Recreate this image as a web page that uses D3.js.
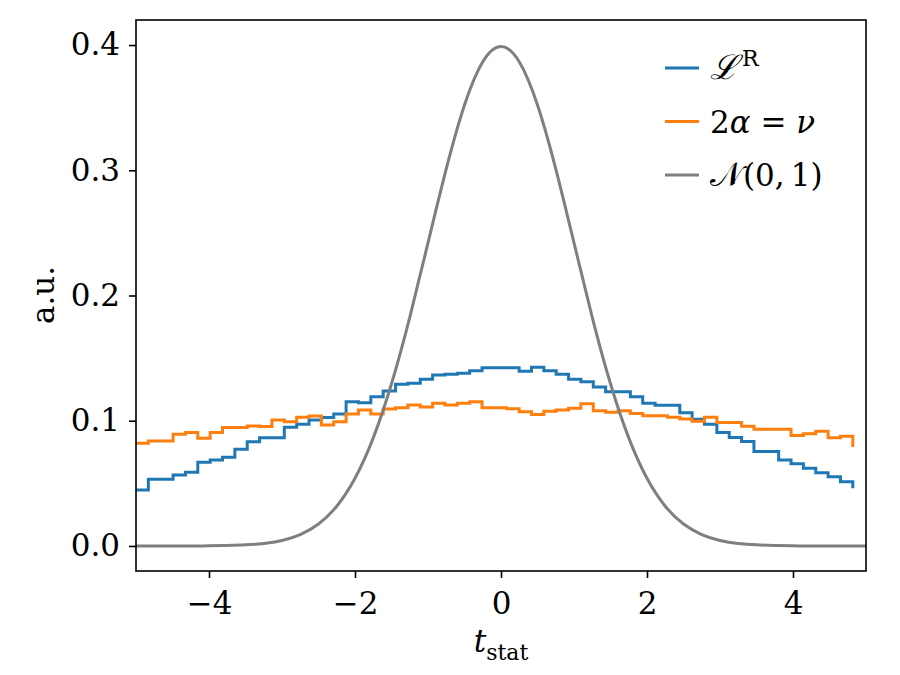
<!DOCTYPE html>
<html>
<head>
<meta charset="utf-8">
<script src="https://cdn.jsdelivr.net/npm/d3@7"></script>
<style>
  body { margin: 0; background: #fff; }
  svg text { font-family: "DejaVu Serif", serif; fill: #000; }
</style>
</head>
<body>
<div id="chart"></div>
<script>
// histogram heights, one per bin (58 bins from -5), last entry = closing drop
var blueVals = [0.0447, 0.0532, 0.0532, 0.0567, 0.0588, 0.0668, 0.0687, 0.0708, 0.0772, 0.0833,
  0.0865, 0.0865, 0.0948, 0.0972, 0.1006, 0.1025, 0.1054, 0.1152, 0.1144, 0.1192,
  0.1238, 0.1291, 0.1299, 0.1331, 0.1365, 0.1371, 0.1379, 0.1400, 0.1424, 0.1424,
  0.1424, 0.1395, 0.1428, 0.1400, 0.1371, 0.1332, 0.1312, 0.1270, 0.1232, 0.1232,
  0.1192, 0.1140, 0.1123, 0.1123, 0.1064, 0.1011, 0.0972, 0.0905, 0.0866, 0.0835,
  0.0755, 0.0755, 0.0687, 0.0657, 0.0620, 0.0585, 0.0553, 0.0513, 0.0460];

var orangeVals = [0.0820, 0.0838, 0.0838, 0.0892, 0.0905, 0.0860, 0.0905, 0.0945, 0.0945, 0.0958,
  0.0953, 0.1006, 0.0992, 0.1027, 0.1038, 0.0966, 0.0992, 0.1054, 0.1086, 0.1054,
  0.1094, 0.1104, 0.1126, 0.1110, 0.1139, 0.1126, 0.1139, 0.1152, 0.1104, 0.1104,
  0.1095, 0.1072, 0.1050, 0.1075, 0.1086, 0.1099, 0.1135, 0.1080, 0.1068, 0.1080,
  0.1057, 0.1040, 0.1040, 0.1027, 0.1014, 0.0995, 0.1027, 0.0986, 0.0986, 0.0955,
  0.0932, 0.0932, 0.0932, 0.0882, 0.0897, 0.0915, 0.0864, 0.0876, 0.0790];

// gray curve read at x = -5, -4.75, ..., 5
var gaussX = d3.range(-5, 5.001, 0.25);
var gaussY = [0.0000, 0.0000, 0.0000, 0.0000, 0.0001, 0.0004, 0.0009, 0.0020, 0.0044, 0.0091,
  0.0175, 0.0317, 0.0540, 0.0863, 0.1295, 0.1826, 0.2420, 0.3011, 0.3521, 0.3867,
  0.3989, 0.3867, 0.3521, 0.3011, 0.2420, 0.1826, 0.1295, 0.0863, 0.0540, 0.0317,
  0.0175, 0.0091, 0.0044, 0.0020, 0.0009, 0.0004, 0.0001, 0.0000, 0.0000, 0.0000, 0.0000];

var binStart = -5;
var binWidth = 0.1693;

var xTicks = [-4, -2, 0, 2, 4];
var yTicks = [0.0, 0.1, 0.2, 0.3, 0.4];

var legendItems = [
  { key: "blue", color: "#1f77b4" },
  { key: "orange", color: "#ff7f0e" },
  { key: "gray", color: "#7f7f7f" }
];

var svgWidth = 900;
var svgHeight = 675;
var margin = { top: 20, right: 34, bottom: 104, left: 136 };
var width = svgWidth - margin.left - margin.right;
var height = svgHeight - margin.top - margin.bottom;
var fs = 31;

var svg = d3.select("#chart")
  .append("svg")
  .attr("width", svgWidth)
  .attr("height", svgHeight);

var chartGroup = svg.append("g")
  .attr("transform", `translate(${margin.left}, ${margin.top})`);

var xScale = d3.scaleLinear().domain([-5, 5]).range([0, width]);
var yScale = d3.scaleLinear().domain([-0.02, 0.42]).range([height, 0]);

chartGroup.append("clipPath").attr("id", "clip")
  .append("rect").attr("width", width).attr("height", height);

// step lines
function stepPoints(vals) {
  return vals.map((v, i) => [binStart + i * binWidth, v]);
}
var stepLine = d3.line()
  .x(d => xScale(d[0]))
  .y(d => yScale(d[1]))
  .curve(d3.curveStepAfter);

chartGroup.append("path")
  .datum(stepPoints(blueVals))
  .attr("clip-path", "url(#clip)")
  .attr("fill", "none")
  .attr("stroke", "#1f77b4")
  .attr("stroke-width", 3)
  .attr("d", stepLine);

chartGroup.append("path")
  .datum(stepPoints(orangeVals))
  .attr("clip-path", "url(#clip)")
  .attr("fill", "none")
  .attr("stroke", "#ff7f0e")
  .attr("stroke-width", 3)
  .attr("d", stepLine);

var gaussLine = d3.line()
  .x((d, i) => xScale(gaussX[i]))
  .y(d => yScale(d))
  .curve(d3.curveNatural);

chartGroup.append("path")
  .datum(gaussY)
  .attr("clip-path", "url(#clip)")
  .attr("fill", "none")
  .attr("stroke", "#7f7f7f")
  .attr("stroke-width", 3)
  .attr("d", gaussLine);

// axes
var xAxis = d3.axisBottom(xScale).tickValues(xTicks).tickSize(7).tickPadding(8)
  .tickFormat(d3.format("d"));
var yAxis = d3.axisLeft(yScale).tickValues(yTicks).tickSize(7).tickPadding(9)
  .tickFormat(d3.format(".1f"));

var gx = chartGroup.append("g")
  .attr("transform", `translate(0, ${height})`)
  .call(xAxis);
var gy = chartGroup.append("g").call(yAxis);

[gx, gy].forEach(g => {
  g.select(".domain").remove();
  g.selectAll("line").attr("stroke", "#000").attr("stroke-width", 1.6);
  g.selectAll("text").attr("font-size", fs).attr("font-family", "DejaVu Serif");
});
gx.selectAll("text").attr("dy", "0.9em");

// frame
chartGroup.append("rect")
  .attr("width", width)
  .attr("height", height)
  .attr("fill", "none")
  .attr("stroke", "#000")
  .attr("stroke-width", 1.6);

// axis labels
svg.append("text")
  .attr("transform", "translate(54, 295) rotate(-90)")
  .attr("text-anchor", "middle")
  .attr("font-size", fs)
  .text("a.u.");

var xl = svg.append("text")
  .attr("x", 501)
  .attr("y", 652)
  .attr("text-anchor", "middle")
  .attr("font-size", fs);
xl.append("tspan").attr("font-style", "italic").text("t");
xl.append("tspan").attr("font-size", 22).attr("dy", 8).text("stat");

// legend
var legend = svg.append("g").attr("transform", "translate(665, 68)");
legendItems.forEach((item, i) => {
  var row = legend.append("g").attr("transform", `translate(0, ${i * 53.5})`);
  row.append("line")
    .attr("x1", 0).attr("x2", 34)
    .attr("stroke", item.color).attr("stroke-width", 3);
  var t = row.append("text")
    .attr("x", 45).attr("y", 11)
    .attr("font-size", fs);
  if (item.key === "blue") {
    t.append("tspan").attr("font-style", "italic").attr("font-size", 34).text("ℒ");
    t.append("tspan").attr("font-size", 22).attr("dx", 4).attr("dy", -13).text("R");
  } else if (item.key === "orange") {
    t.append("tspan").text("2");
    t.append("tspan").attr("font-style", "italic").text("α");
    t.append("tspan").text(" = ");
    t.append("tspan").attr("font-style", "italic").text("ν");
  } else {
    t.append("tspan").attr("font-size", 34).text("𝒩");
    t.append("tspan").text("(0,\u20091)");
  }
});
</script>
</body>
</html>
